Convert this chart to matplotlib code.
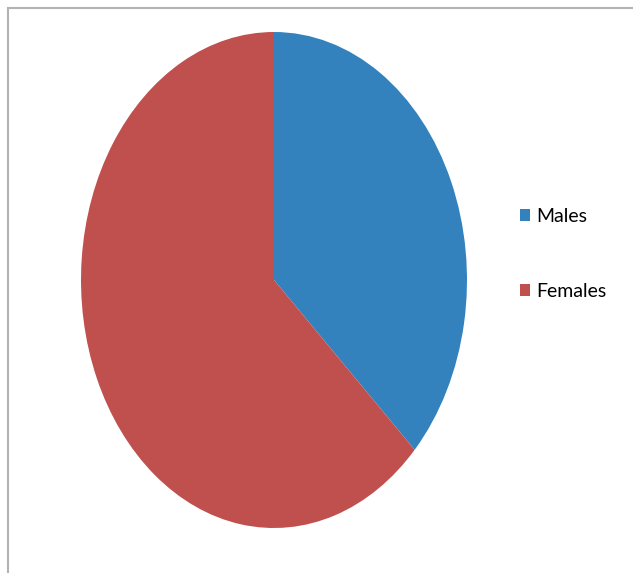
import matplotlib.pyplot as plt
from matplotlib.patches import Rectangle

labels = ['Males', 'Females']
shares = [37, 63]
colors = ['#3382be', '#c0504d']

fig = plt.figure(figsize=(6.33, 5.73), dpi=100)

# outer chart frame (only top and left edges visible in the crop)
fig.add_artist(Rectangle((8 / 633, -0.1), 1.2, 0.1 + (573 - 8) / 573,
                         transform=fig.transFigure, fill=False,
                         edgecolor='#b3b3b3', linewidth=1.5))

# the pie is stretched vertically, so use a non-equal aspect axes
ax = fig.add_axes([81 / 633, (573 - 528) / 573, 386 / 633, 496 / 573])
wedges, _ = ax.pie(shares, colors=colors, startangle=90, counterclock=False,
                   radius=1, wedgeprops=dict(linewidth=0))
ax.set_aspect('auto')
ax.set_xlim(-1, 1)
ax.set_ylim(-1, 1)
ax.axis('off')

fig.legend(wedges, labels, loc='center left', bbox_to_anchor=(502 / 633, 1 - 254 / 573),
           frameon=False, prop={'family': 'Lato', 'size': 14},
           handlelength=0.55, handleheight=0.55, handletextpad=0.3,
           labelspacing=3.0)

fig.savefig('out.png', dpi=100)
